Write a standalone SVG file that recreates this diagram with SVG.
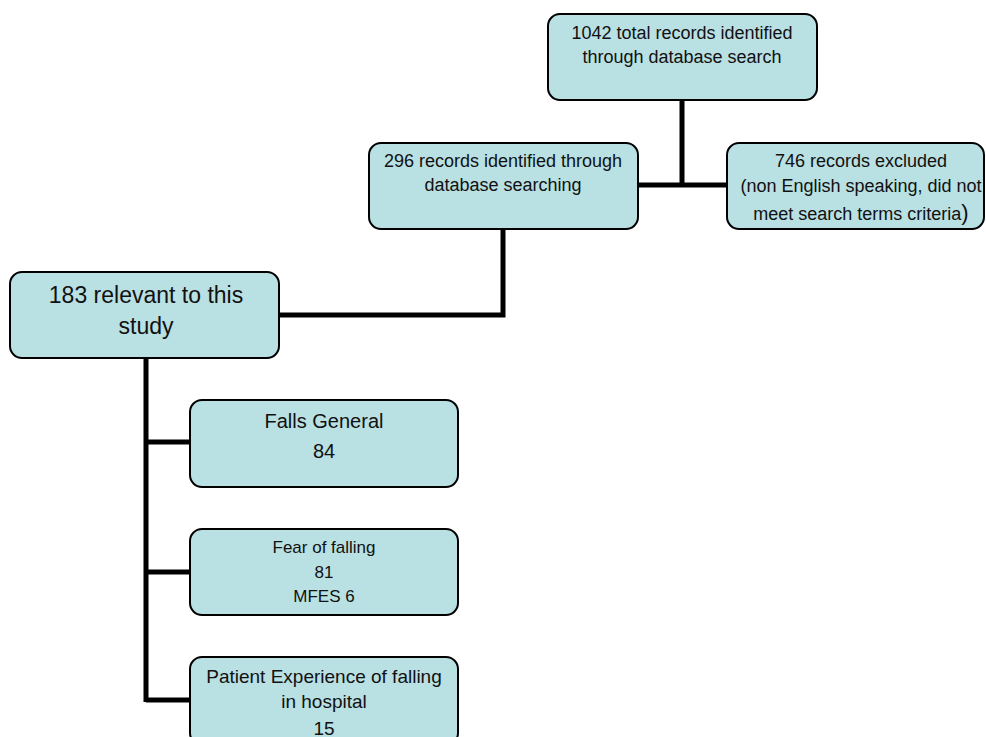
<svg xmlns="http://www.w3.org/2000/svg" width="986" height="737" viewBox="0 0 986 737">
<style>
.box{fill:#b9e0e3;stroke:#000;stroke-width:2}
.t{font-family:"Liberation Sans",Arial,sans-serif;fill:#111;text-anchor:middle}
.m{font-size:18px}
.conn{fill:none;stroke:#000;stroke-width:5;stroke-linejoin:miter}
</style>
<rect width="986" height="737" fill="#fff"/>
<g id="connectors">
<path class="conn" d="M682 100 V185"/>
<path class="conn" d="M637 185 H727"/>
<path class="conn" d="M503 229 V315 H280"/>
<path class="conn" d="M146 357 V702"/>
<path class="conn" d="M146 442 H190"/>
<path class="conn" d="M146 572 H190"/>
<path class="conn" d="M146 700 H190"/>
</g>
<g id="n1042">
<rect class="box" x="548" y="14" width="269" height="86" rx="12"/>
<text class="t m" x="682" y="39">1042 total records identified</text>
<text class="t m" x="682" y="63">through database search</text>
</g>
<g id="n296">
<rect class="box" x="369" y="143" width="269" height="86" rx="12"/>
<text class="t m" x="503" y="167">296 records identified through</text>
<text class="t m" x="503" y="191">database searching</text>
</g>
<g id="n746">
<rect class="box" x="727" y="143" width="257" height="86" rx="12"/>
<text class="t m" x="861" y="167">746 records excluded</text>
<text class="t m" x="861" y="192">(non English speaking, did not</text>
<text class="t m" x="861" y="220">meet search terms criteria<tspan font-size="22">)</tspan></text>
</g>
<g id="n183">
<rect class="box" x="10" y="272" width="269" height="86" rx="12"/>
<text class="t" x="146" y="303" font-size="23">183 relevant to this</text>
<text class="t" x="146" y="334" font-size="23">study</text>
</g>
<g id="nFalls">
<rect class="box" x="190" y="400" width="268" height="87" rx="12"/>
<text class="t" x="324" y="428" font-size="20">Falls General</text>
<text class="t" x="324" y="458" font-size="20">84</text>
</g>
<g id="nFear">
<rect class="box" x="190" y="529" width="268" height="86" rx="12"/>
<text class="t" x="324" y="553" font-size="17">Fear of falling</text>
<text class="t" x="324" y="578" font-size="17">81</text>
<text class="t" x="324" y="602" font-size="17">MFES 6</text>
</g>
<g id="nPatient">
<rect class="box" x="190" y="657" width="268" height="88" rx="12"/>
<text class="t" x="324" y="683" font-size="19">Patient Experience of falling</text>
<text class="t" x="324" y="708" font-size="19">in hospital</text>
<text class="t" x="324" y="735" font-size="19">15</text>
</g>
</svg>
